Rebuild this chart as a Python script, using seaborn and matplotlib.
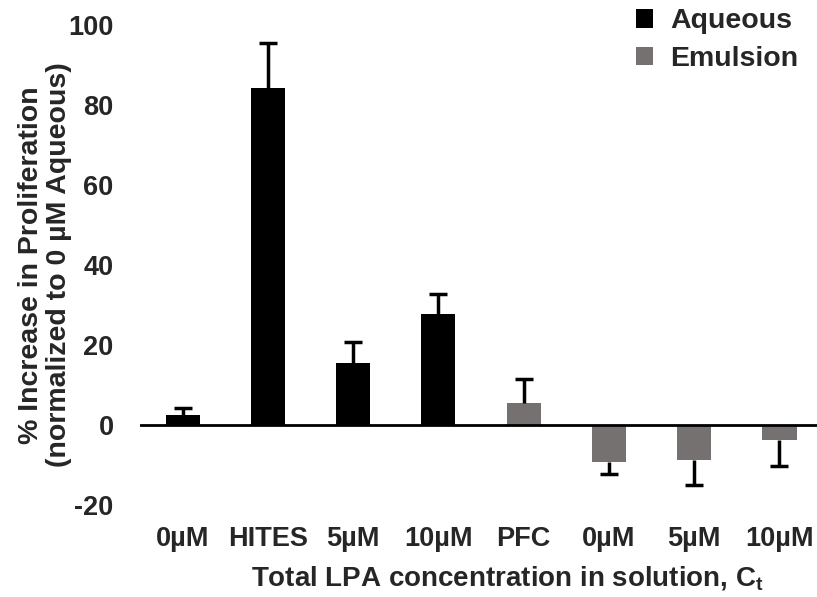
import matplotlib
matplotlib.use("Agg")
import matplotlib.pyplot as plt
import seaborn as sns
import pandas as pd
import numpy as np

# Conditions along the x axis (unique keys), their printed tick labels and groups
conditions = ["0µM aq", "HITES", "5µM aq", "10µM aq", "PFC", "0µM em", "5µM em", "10µM em"]
tick_labels = ["0µM", "HITES", "5µM", "10µM", "PFC", "0µM", "5µM", "10µM"]
groups = ["Aqueous", "Aqueous", "Aqueous", "Aqueous", "Emulsion", "Emulsion", "Emulsion", "Emulsion"]

# Mean % increase in proliferation and the one-sided error (SD)
values = [2.5, 84.2, 15.6, 27.7, 5.6, -9.2, -8.75, -3.75]
errors = [1.7, 11.4, 5.1, 5.05, 5.8, 3.1, 6.35, 6.45]

group_order = ["Aqueous", "Emulsion"]
palette = {"Aqueous": "#000000", "Emulsion": "#767171"}

sns.set_theme(style="white")
plt.rcParams["font.family"] = ["Liberation Sans", "DejaVu Sans"]
plt.rcParams["font.weight"] = "bold"
plt.rcParams["axes.unicode_minus"] = False
plt.rcParams["mathtext.fontset"] = "custom"
plt.rcParams["mathtext.rm"] = "Liberation Sans:bold"
plt.rcParams["mathtext.bf"] = "Liberation Sans:bold"

df = pd.DataFrame({"condition": conditions, "value": values, "group": groups})

W, H = 817, 597
fig = plt.figure(figsize=(W / 100, H / 100), dpi=100)
ax = fig.add_axes([140 / W, 1 - 505 / H, (817 - 140) / W, 480 / H])

sns.barplot(data=df, x="condition", y="value", hue="group", order=conditions,
            hue_order=group_order, palette=palette, dodge=False, width=0.4,
            errorbar=None, linewidth=0, saturation=1, ax=ax)

# One-sided error bars pointing away from zero, cap only at the far end
bars = sorted([p for p in ax.patches if p.get_width() > 0], key=lambda p: p.get_x())
xs = np.array([p.get_x() + p.get_width() / 2 for p in bars])
vals = np.array(values)
errs = np.array(errors)
tips = vals + np.sign(vals) * errs
ax.vlines(xs, vals, tips, colors="black", linewidth=2.5, zorder=3)
ax.plot(xs, tips, linestyle="none", marker="_", markersize=13,
        markeredgewidth=2.5, color="black", zorder=3)

ax.axhline(0, color="black", lw=2, zorder=4)

ax.set_xlim(-0.5, 7.44)
ax.set_ylim(-20, 100)
ax.set_yticks(np.arange(-20, 101, 20))
ax.set_xticks(range(len(conditions)))
ax.set_xticklabels(tick_labels, fontsize=19.5, fontweight="bold")
ax.tick_params(axis="x", length=0, pad=15)
ax.tick_params(axis="y", length=0, pad=19, labelsize=19.5)
for lbl in ax.get_yticklabels():
    lbl.set_fontweight("bold")

for s in ax.spines.values():
    s.set_visible(False)

ax.set_xlabel(r"Total LPA concentration in solution, C$_\mathbf{t}$",
              fontsize=20, fontweight="bold")
ax.xaxis.set_label_coords(0.543, -0.123)
ax.set_ylabel("% Increase in Proliferation\n(normalized to 0 µM Aqueous)",
              fontsize=20.5, fontweight="bold", linespacing=1.12)
ax.yaxis.set_label_coords(-0.1, 0.5)

handles, labels = ax.get_legend_handles_labels()
ax.legend(handles, labels, loc="upper left", bbox_to_anchor=(636 / W, 1 - 8.5 / H),
          bbox_transform=fig.transFigure, frameon=False, handlelength=0.6,
          handleheight=0.6, handletextpad=0.6, labelspacing=0.42, borderpad=0,
          borderaxespad=0, prop={"weight": "bold", "size": 20.5})

fig.savefig("out.png", dpi=100)
